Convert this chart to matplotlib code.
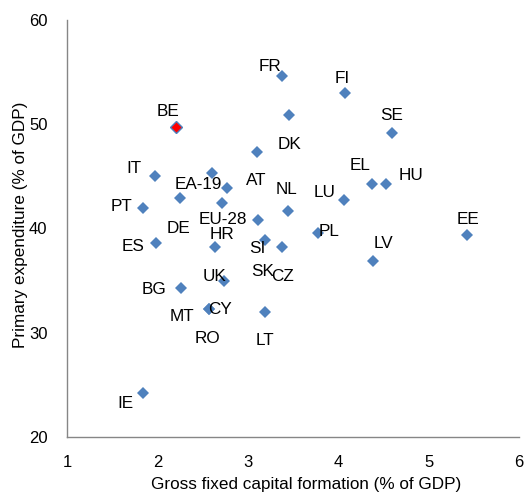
import matplotlib
matplotlib.use("Agg")
import matplotlib.pyplot as plt

# Data (x: gross fixed capital formation % of GDP, y: primary expenditure % of GDP)
countries = ["FR", "DK", "FI", "SE", "BE", "AT", "IT", "EA-19", "EL", "HU",
             "LU", "NL", "PT", "DE", "EU-28", "HR", "ES", "SI", "CZ", "PL",
             "EE", "LV", "UK", "BG", "MT", "CY", "LT", "IE", "SK", "RO"]
gfcf = [3.38, 3.46, 4.08, 4.59, 2.21, 3.10, 1.97, 2.77, 4.37, 4.53,
        4.06, 3.45, 1.84, 2.25, 3.11, 2.64, 1.99, 3.19, 3.38, 3.78,
        5.43, 4.38, 2.74, 2.26, 2.57, 2.57, 3.19, 1.84, 2.60, 2.72]
primary_exp = [54.6, 50.9, 53.0, 49.2, 49.7, 47.3, 45.0, 43.9, 44.3, 44.3,
               42.7, 41.7, 42.0, 42.9, 40.8, 38.2, 38.6, 38.9, 38.2, 39.6,
               39.4, 36.9, 35.0, 34.3, 32.3, 32.3, 32.0, 24.2, 45.3, 42.4]
highlight = "BE"

x_ticks = [1, 2, 3, 4, 5, 6]
y_ticks = [20, 30, 40, 50, 60]

# Label offsets in pixels (dx right, dy up) relative to each point - layout only
label_offsets = {
    "FR": (-12, 10), "DK": (0, -30), "FI": (-3, 14), "SE": (0, 17), "BE": (-8, 16),
    "AT": (-1, -28), "IT": (-21, 8), "EA-19": (-29, 3), "EL": (-12, 18), "HU": (25, 8),
    "LU": (-19, 8), "NL": (-2, 21), "PT": (-21, 1), "DE": (-1, -30), "EU-28": (-35, 1),
    "HR": (7, 13), "ES": (-23, -3), "SI": (-8, -9), "CZ": (0, -29), "PL": (11, 1),
    "EE": (1, 15), "LV": (11, 17), "UK": (-10, 4), "BG": (-27, -2), "MT": (-27, -8),
    "CY": (11, -1), "LT": (0, -29), "IE": (-17, -10), "SK": (51, -98), "RO": (-15, -135),
}

W, H, DPI = 526, 499, 100
fig = plt.figure(figsize=(W / DPI, H / DPI), dpi=DPI)
ax = fig.add_axes([67 / W, 1 - 437 / H, (519 - 67) / W, (437 - 20) / H])

blue = "#4F81BD"
for name, xv, yv in zip(countries, gfcf, primary_exp):
    face = "#FF0000" if name == highlight else blue
    ax.plot([xv], [yv], marker="D", markersize=6.6, markerfacecolor=face,
            markeredgecolor=blue, markeredgewidth=1.0 if name == highlight else 0.0,
            linestyle="none", zorder=3)
    dx, dy = label_offsets[name]
    ax.annotate(name, (xv, yv), xytext=(dx, dy), textcoords="offset pixels",
                ha="center", va="center", fontsize=12.3, family="Liberation Sans",
                color="#000000", zorder=4)

ax.set_xlim(1, 6)
ax.set_ylim(20, 60)
ax.set_xticks(x_ticks)
ax.set_yticks(y_ticks)
ax.tick_params(length=0, labelsize=12, colors="#000000")
ax.tick_params(axis="x", pad=13)
ax.tick_params(axis="y", pad=14)
for lab in ax.get_xticklabels() + ax.get_yticklabels():
    lab.set_family("Liberation Sans")
for s in ["top", "right"]:
    ax.spines[s].set_visible(False)
for s in ["left", "bottom"]:
    ax.spines[s].set_color("#868686")
    ax.spines[s].set_linewidth(1.0)

ax.set_xlabel("Gross fixed capital formation (% of GDP)", fontsize=12.3,
              family="Liberation Sans")
ax.xaxis.set_label_coords((306 - 67) / (519 - 67), -(485 - 437) / (437 - 20))
ax.xaxis.label.set_va("center")
ax.set_ylabel("Primary expenditure (% of GDP)", fontsize=12.3,
              family="Liberation Sans")
ax.yaxis.set_label_coords(-(67 - 21) / (519 - 67), (437 - 225) / (437 - 20))
ax.yaxis.label.set_va("center")

fig.savefig("out.png", dpi=DPI)
